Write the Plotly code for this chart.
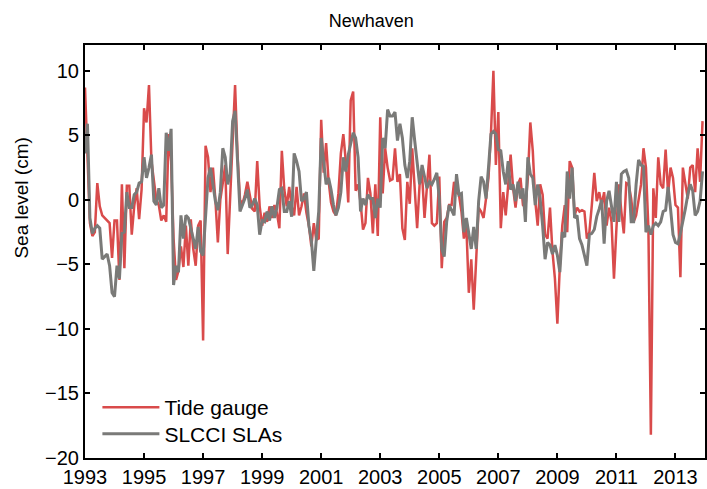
import plotly.graph_objects as go

start_year = 1993
tick_years = [1993, 1995, 1997, 1999, 2001, 2003, 2005, 2007, 2009, 2011, 2013]
y_ticks = [-20, -15, -10, -5, 0, 5, 10]

tide_gauge = [
    8.7, 4.0, -1.8, -2.8, -2.5, 1.3, -0.5, -1.2, -1.4, -1.6, -1.8, -4.5,
    -1.6, -1.6, -6.2, 1.2, -5.3, 1.1, 1.1, -2.7, -0.5, 0.9, -1.5, 0.8,
    7.1, 6.0, 8.9, 3.0, 1.4, 0.0, -0.4, -1.6, -1.2, -1.7, 5.1, 3.0,
    -3.0, -6.2, -5.5, -3.6, -5.2, -2.0, -5.1, -1.5, -3.8, -5.1, -2.0, -1.6,
    -10.9, 4.2, 3.3, 0.6, 2.5, 0.0, -3.3, 0.0, 1.3, 2.7, -4.2, 0.1,
    3.8, 8.9, 3.5, 0.0, -0.3, 0.4, 1.4, 0.4, -0.7, -0.9, 3.0, -0.5,
    -2.0, -1.0, -1.7, -0.5, -1.4, -0.4, -1.0, -2.2, 3.8, 0.8, -0.5, 1.0,
    -0.5, -1.2, 1.0, -1.2, -0.5, 0.5, -1.0, -2.0, -3.6, -1.8, -3.1, -3.0,
    6.2, 2.1, 4.4, 1.5, -0.2, -0.9, -1.2, 0.5, 3.6, 5.1, 3.0, -0.2,
    7.7, 8.4, 0.7, 1.2, -0.2, -2.3, -1.8, 1.7, 0.5, -2.6, 1.2, -2.8,
    6.4, 0.5, 4.0, 2.5, 1.5, 1.6,
    4.0, 1.4, 2.0, -2.2, -3.1, 1.4, -0.3, 4.0, 1.2, -2.2, 1.2, 2.0,
    -1.4, 1.0, 3.5, -1.8, -2.0, -1.8, 1.8, -5.3, -1.7, -1.4, -0.4, -0.4,
    1.4, 0.6, 0.4, -0.9, -3.0, -2.0, -7.2, -4.6, -8.5, -4.6, -0.6, -0.9,
    -1.4, 0.1, 1.7, 5.1, 10.0, 2.7, 6.8, -2.2, 0.6, -1.2, 1.4, 3.5,
    0.9, -0.6, 1.2, 1.7, -0.4, -0.6, 1.7, 6.0, 3.8, -0.1, -2.0, 1.2,
    0.4, -2.7, -3.0, -0.6, -4.0, -6.1, -9.6, -5.1, -2.0, -0.4, -2.5, 3.0,
    2.5, -1.2, -0.6, -0.9, -0.8, -0.9, -3.0, -2.5, -0.4, 2.1, -0.1, 0.6,
    -0.4, 0.6, -2.0, -0.6, -1.7, -6.1, -2.2, 1.2, -0.9, -2.6, 1.3, 1.2,
    0.1, -1.7, -1.2, 0.1, 1.2, 4.0, 2.5, -2.2, -18.2, 0.9, -1.4, 3.3,
    1.2, 0.9, 3.9, 0.5, 2.5, 1.7, -0.4, -0.6, -6.0, 2.5, 1.2, 0.1,
    2.5, 2.7, 0.6, 4.0, 1.4, 6.1,
]

slcci_slas = [
    3.6, 5.9, -1.4, -2.6, -2.2, -2.0, -2.2, -4.6, -4.4, -4.2, -5.1, -7.2,
    -7.5, -5.1, -6.1, -2.6, -2.5, 0.6, -0.6, -0.6, 0.4, 0.6, 1.3, 1.4,
    3.3, 1.7, 2.5, 3.5, -0.1, -0.4, 0.9, -0.6, -0.4, 5.2, 3.8, 5.5,
    -6.6, -5.1, -5.6, -1.2, -3.0, -1.2, -1.4, -2.2, -3.0, -3.8, -2.1, -4.0,
    -4.3, -1.4, 1.7, 2.5, 1.2, -0.1, -0.8, 0.6, 4.0, 3.3, 1.2, 2.0,
    6.1, 6.9, 3.0, -0.9, -0.4, 0.1, 0.8, -0.6, -0.4, 0.1, -0.4, -2.7,
    -1.6, -1.7, -0.9, -1.6, -0.5, -1.4, -0.6, 0.8, 0.9, -0.9, -0.9, -0.1,
    -1.3, 3.6, 3.0, 2.2, -0.1, 0.1, 0.6, -2.0, -3.1, -5.5, -3.1, -0.9,
    4.8, 3.0, 1.2, 1.7, 0.8, -0.4, -1.2, -0.6, 0.6, 3.3, 2.2, 3.5,
    4.3, 5.2, 4.8, 3.3, -0.9, 0.1, -0.4, 0.4, 0.1, 0.1, -1.4, 0.1,
    -0.6, 4.8, 4.0, 7.0, 6.5, 6.5,
    6.8, 4.6, 5.9, 4.8, 2.7, 1.7, 3.0, 6.4, 4.6, 2.7, 1.2, 2.7,
    1.7, 0.9, 1.4, 1.2, 1.6, 2.1, 0.1, -3.8, -4.4, -1.7, -0.4, -0.8,
    -1.2, 2.0, 0.4, 0.5, -2.5, -1.4, -2.7, -3.8, -2.1, -3.8, -0.1, 1.8,
    1.4, 0.1, 2.5, 5.1, 5.3, 5.1, 3.9, 3.8, 2.2, 1.2, 3.0, 0.8,
    1.2, -0.1, 1.4, 0.1, 0.9, -1.7, 3.3, 2.0, 1.7, -0.4, 1.2, 0.1,
    -2.0, -4.6, -3.3, -3.5, -4.2, -3.5, -4.3, -5.6, -2.5, -2.9, 2.2, 0.1,
    2.5, -1.4, -1.2, -3.0, -3.5, -4.3, -5.1, -2.7, -2.6, -2.3, -1.3, -0.7,
    0.0, -3.4, -0.1, 0.7, -0.7, -1.7, 1.4, -1.7, 2.0, 2.2, 2.3, 1.7,
    -1.7, -1.7, 1.2, 3.1, 2.7, 2.6, -2.5, -2.0, -2.7, -2.0, -1.8, -2.0,
    -1.7, -0.9, -0.8, 1.0, -0.7, -2.7, -3.3, -3.4, -2.6, -1.7, -0.7, 0.4,
    1.2, 0.7, -1.2, -0.9, -0.1, 2.2,
]

t_tide = [start_year + i / 12 for i in range(len(tide_gauge))]
t_sla = [start_year + i / 12 for i in range(len(slcci_slas))]

FONT = "Liberation Sans, Arial, Helvetica, sans-serif"

fig = go.Figure()
fig.add_trace(go.Scatter(x=t_tide, y=tide_gauge, mode="lines", name="Tide gauge",
                         line=dict(color="#d94b4b", width=2.5), legend="legend"))
fig.add_trace(go.Scatter(x=t_sla, y=slcci_slas, mode="lines", name="SLCCI SLAs",
                         line=dict(color="#7a7a78", width=3), legend="legend2"))

axis_common = dict(showline=True, linecolor="black", linewidth=2, mirror="ticks",
                   ticks="inside", ticklen=5, tickwidth=1.5, tickcolor="black",
                   showgrid=False, zeroline=False,
                   tickfont=dict(family=FONT, size=20, color="black"))

fig.update_xaxes(range=[1993, 2014], tickvals=tick_years,
                 ticktext=[str(y) for y in tick_years], **axis_common)
fig.update_yaxes(range=[-20, 12], tickvals=y_ticks,
                 ticktext=[("\u2212" + str(-v)) if v < 0 else str(v) for v in y_ticks],
                 **axis_common)

legend_common = dict(x=0.02, xanchor="left", yanchor="middle",
                     bgcolor="rgba(0,0,0,0)", font=dict(family=FONT, size=21, color="black"),
                     itemwidth=57)

fig.update_layout(
    width=707, height=489,
    margin=dict(l=85, r=2, t=45, b=31, autoexpand=False),
    paper_bgcolor="white", plot_bgcolor="white",
    title=dict(text="Newhaven", x=0.525, xanchor="center", y=0.958, yanchor="middle",
               font=dict(family=FONT, size=18, color="black")),
    legend=dict(y=0.122, **legend_common),
    legend2=dict(y=0.058, **legend_common),
    showlegend=True,
    annotations=[dict(text="Sea level (cm)", textangle=-90, xref="paper", yref="paper",
                      x=-0.102, y=0.63, xanchor="center", yanchor="middle", showarrow=False,
                      font=dict(family=FONT, size=19, color="black"))],
)

fig.write_html("out.html")
